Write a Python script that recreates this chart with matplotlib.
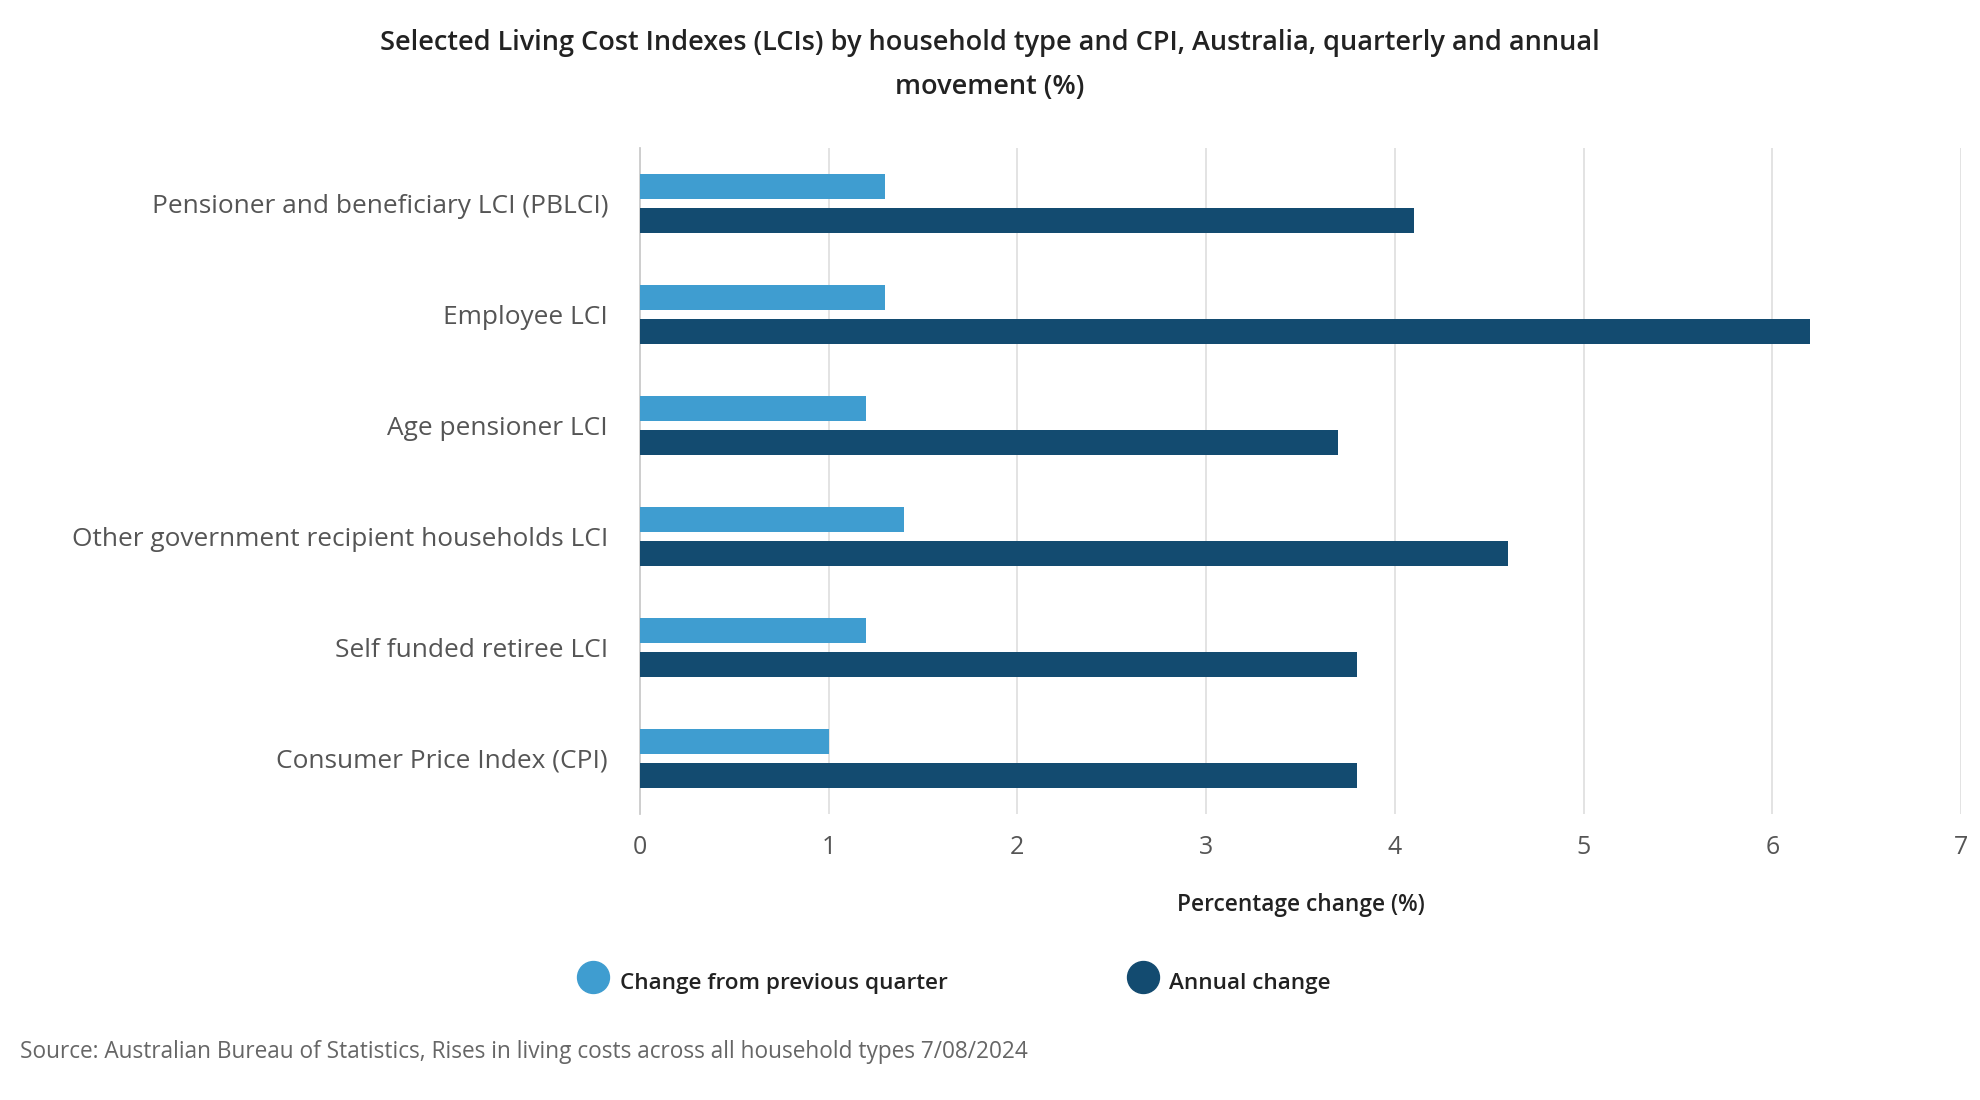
import numpy as np
import matplotlib.pyplot as plt
from matplotlib.lines import Line2D

plt.rcParams['font.family'] = ['Open Sans', 'DejaVu Sans']

categories = ['Pensioner and beneficiary LCI (PBLCI)', 'Employee LCI', 'Age pensioner LCI',
              'Other government recipient households LCI', 'Self funded retiree LCI',
              'Consumer Price Index (CPI)']
quarterly = [1.3, 1.3, 1.2, 1.4, 1.2, 1.0]
annual = [4.1, 6.2, 3.7, 4.6, 3.8, 3.8]
xticks = [0, 1, 2, 3, 4, 5, 6, 7]
series = ['Change from previous quarter', 'Annual change']

light = '#3f9dd0'
dark = '#134b70'
W, H = 1980, 1100

fig = plt.figure(figsize=(19.8, 11), dpi=100)
ax = fig.add_axes([640 / W, 1 - 814 / H, (1961 - 640) / W, (814 - 148) / H])

y = np.arange(len(categories))
h = 0.225
ax.barh(y - 0.153, quarterly, height=h, color=light, zorder=3)
ax.barh(y + 0.153, annual, height=h, color=dark, zorder=3)

ax.set_ylim(5.5, -0.5)
ax.set_xlim(0, 7)
ax.set_yticks(y)
ax.set_yticklabels(categories, fontsize=18.9, color='#555555')
ax.set_xticks(xticks)
ax.set_xticklabels([str(t) for t in xticks], fontsize=18, color='#555555')
ax.tick_params(axis='y', length=0, pad=23)
ax.tick_params(axis='x', length=0, pad=15)
ax.grid(axis='x', color='#e0e0e0', linewidth=1.3, zorder=0)
for s in ['top', 'right', 'bottom']:
    ax.spines[s].set_visible(False)
ax.spines['left'].set_color('#cccccc')
ax.spines['left'].set_linewidth(1.3)
ax.set_xlabel('Percentage change (%)', fontsize=16.4, fontweight='semibold', color='#222222', labelpad=24)

fig.text(0.5, 1 - 43 / H, 'Selected Living Cost Indexes (LCIs) by household type and CPI, Australia, quarterly and annual',
         ha='center', va='center', fontsize=19.5, fontweight='semibold', color='#222222')
fig.text(0.5, 1 - 87 / H, 'movement (%)',
         ha='center', va='center', fontsize=19.5, fontweight='semibold', color='#222222')

# legend drawn by hand so handle/text spacing matches
ly = 1 - 977 / H
for xm, xt, col, lab in [(593, 620, light, series[0]), (1143, 1169, dark, series[1])]:
    fig.add_artist(Line2D([xm / W], [ly], marker='o', markersize=23, color=col,
                          linestyle='none', transform=fig.transFigure))
    fig.text(xt / W, 1 - 983 / H, lab, ha='left', va='center', fontsize=16.2,
             fontweight='semibold', color='#222222')

fig.text(20 / W, 1 - 1052 / H,
         'Source: Australian Bureau of Statistics, Rises in living costs across all household types 7/08/2024',
         ha='left', va='center', fontsize=16.3, color='#666666')

fig.savefig('out.png', dpi=100)
